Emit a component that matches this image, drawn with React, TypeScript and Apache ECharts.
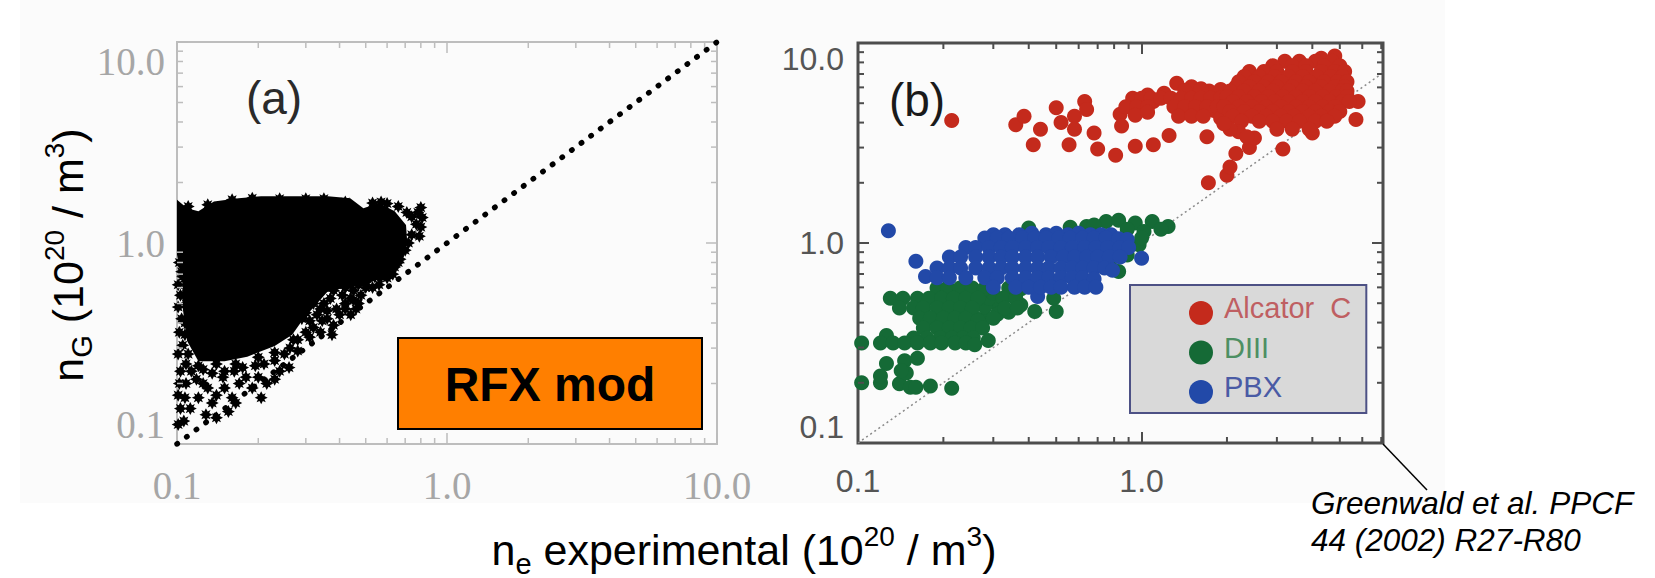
import React, { useEffect, useRef } from "react";
import * as echarts from "echarts";

const minorValues = [0.2, 0.3, 0.4, 0.5, 0.6, 0.7, 0.8, 0.9, 2, 3, 4, 5, 6, 7, 8, 9];
const minorValuesB = [0.2, 0.3, 0.4, 0.5, 0.6, 0.7, 0.8, 0.9, 2, 3, 4, 5, 6, 7];

const rfxCoreOutline = [
  [0.1, 1.64], [0.109, 1.49], [0.12, 1.44], [0.137, 1.61], [0.169, 1.67], [0.205, 1.71], [0.267, 1.71],
  [0.362, 1.71], [0.438, 1.67], [0.49, 1.49], [0.56, 1.58], [0.64, 1.44], [0.705, 1.23], [0.712, 1.02],
  [0.69, 0.85], [0.62, 0.73], [0.56, 0.66], [0.49, 0.62], [0.42, 0.6], [0.36, 0.57], [0.33, 0.5], [0.294, 0.42],
  [0.267, 0.35], [0.23, 0.307], [0.182, 0.272], [0.15, 0.258], [0.12, 0.258], [0.109, 0.325], [0.105, 0.475],
  [0.105, 0.645], [0.1, 0.875],
];
const rfxFringe = [
  [0.102, 0.8], [0.104, 0.72], [0.101, 0.62], [0.103, 0.55], [0.101, 0.48], [0.104, 0.42], [0.102, 0.36],
  [0.105, 0.31], [0.101, 0.28], [0.108, 0.25], [0.103, 0.23], [0.113, 0.23], [0.125, 0.235], [0.135, 0.225],
  [0.15, 0.23], [0.163, 0.23], [0.175, 0.24], [0.195, 0.245], [0.21, 0.25], [0.23, 0.26], [0.25, 0.28],
  [0.262, 0.3], [0.28, 0.33], [0.3, 0.36], [0.31, 0.41], [0.33, 0.44], [0.345, 0.41], [0.36, 0.42],
  [0.375, 0.35], [0.38, 0.39], [0.4, 0.44], [0.42, 0.47], [0.44, 0.44], [0.46, 0.47], [0.45, 0.52],
  [0.48, 0.55], [0.5, 0.6], [0.53, 0.6], [0.56, 0.62], [0.6, 0.67], [0.63, 0.7], [0.64, 0.76], [0.67, 0.83],
  [0.7, 0.92], [0.72, 1.0], [0.74, 1.1], [0.77, 1.24], [0.79, 1.08], [0.8, 1.2], [0.81, 1.34], [0.8, 1.5],
  [0.78, 1.42], [0.74, 1.35], [0.71, 1.42], [0.66, 1.52], [0.6, 1.57], [0.57, 1.6], [0.53, 1.58],
  [0.38, 0.58], [0.37, 0.53], [0.35, 0.5], [0.39, 0.62], [0.42, 0.6], [0.45, 0.58],
  [0.108, 0.2], [0.102, 0.2], [0.101, 0.175], [0.107, 0.17], [0.103, 0.15], [0.112, 0.15], [0.106, 0.13],
  [0.101, 0.125], [0.125, 0.2], [0.13, 0.19], [0.14, 0.175], [0.135, 0.16], [0.128, 0.14], [0.15, 0.19],
  [0.16, 0.17], [0.17, 0.2], [0.165, 0.16], [0.155, 0.145], [0.14, 0.135], [0.18, 0.215], [0.2, 0.215],
  [0.205, 0.17], [0.215, 0.2], [0.23, 0.21], [0.24, 0.23], [0.26, 0.24], [0.19, 0.19], [0.148, 0.215],
  [0.118, 0.21], [0.12, 0.17],
  [0.66, 0.8], [0.62, 0.78], [0.6, 0.72], [0.57, 0.68], [0.54, 0.68], [0.5, 0.64], [0.47, 0.62], [0.44, 0.62],
  [0.41, 0.55], [0.44, 0.53], [0.47, 0.5], [0.42, 0.5], [0.39, 0.47], [0.36, 0.46], [0.34, 0.47], [0.32, 0.5],
  [0.3, 0.45], [0.29, 0.42], [0.32, 0.38], [0.34, 0.36], [0.31, 0.34], [0.27, 0.33], [0.28, 0.29], [0.23, 0.285],
  [0.2, 0.27], [0.165, 0.25], [0.14, 0.25], [0.12, 0.245], [0.11, 0.28], [0.107, 0.35], [0.107, 0.4],
  [0.108, 0.5], [0.107, 0.55], [0.108, 0.6], [0.105, 0.68],
  [0.11, 1.52], [0.13, 1.55], [0.16, 1.64], [0.19, 1.67], [0.24, 1.66], [0.3, 1.66], [0.35, 1.66], [0.42, 1.6],
];
const unityA = [[0.1, 0.1], [10, 10]];
const unityB = [[0.1, 0.1], [7.1, 7.1]];

const alcator = [
  [0.214, 4.1], [0.36, 3.9], [0.385, 4.3], [0.415, 3.1], [0.44, 3.7], [0.5, 4.75], [0.52, 4.0], [0.58, 4.3],
  [0.58, 3.7], [0.555, 3.1], [0.63, 5.1], [0.64, 4.65], [0.68, 3.55], [0.7, 2.95], [0.81, 2.75], [0.95, 3.05],
  [1.1, 3.1], [1.25, 3.45], [0.84, 4.4], [0.85, 3.85], [1.7, 3.4], [1.72, 2.0], [2.0, 2.18], [2.05, 2.4],
  [2.15, 2.8], [2.4, 3.0], [2.5, 3.35], [3.15, 2.95], [4.0, 3.55], [5.7, 4.15], [5.8, 5.1],
  [1.33, 6.3], [1.5, 6.05], [1.73, 5.75], [1.9, 5.85], [1.2, 5.6], [1.05, 5.5], [1.62, 5.9], [1.42, 5.8], [1.1, 5.1], [1.3, 5.1], [1.5, 5.0], [1.8, 4.6],
  [0.93, 5.3], [1.0, 5.3], [1.08, 5.3], [1.17, 5.3], [1.27, 5.3], [1.38, 5.3], [1.5, 5.3], [1.62, 5.3], [1.75, 5.3], [1.9, 5.3],
  [0.88, 4.8], [0.96, 4.8], [1.05, 4.8], [1.3, 4.8], [1.42, 4.8], [1.55, 4.8], [1.7, 4.8], [1.85, 4.8], [2.0, 4.8],
  [0.95, 4.35], [1.05, 4.5], [1.35, 4.3], [1.5, 4.3], [1.65, 4.3], [1.9, 4.2],
  [4.8, 8.6], [4.3, 8.4], [3.2, 8.1], [3.6, 8.1], [4.1, 8.1], [4.7, 8.1], [3.4, 7.7], [3.8, 7.7], [4.4, 7.7], [5.0, 7.7], [2.9, 7.7],
  [2.4, 7.2], [2.7, 7.2], [3.0, 7.2], [3.4, 7.2], [3.8, 7.2], [4.3, 7.2], [4.8, 7.2], [5.2, 7.2],
  [2.3, 6.8], [2.6, 6.8], [2.95, 6.8], [3.3, 6.8], [3.7, 6.8], [4.15, 6.8], [4.65, 6.8], [5.1, 6.8],
  [2.2, 6.4], [2.5, 6.4], [2.8, 6.4], [3.1, 6.4], [3.5, 6.4], [3.9, 6.4], [4.4, 6.4], [4.9, 6.4], [5.3, 6.4],
  [2.15, 6.05], [2.4, 6.05], [2.7, 6.05], [3.0, 6.05], [3.4, 6.05], [3.8, 6.05], [4.3, 6.05], [4.8, 6.05], [5.2, 6.05],
  [2.05, 5.75], [2.3, 5.75], [2.6, 5.75], [2.9, 5.75], [3.3, 5.75], [3.7, 5.75], [4.1, 5.75], [4.6, 5.75], [5.1, 5.75], [5.3, 5.75],
  [2.0, 5.4], [2.2, 5.4], [2.5, 5.4], [2.8, 5.4], [3.15, 5.4], [3.5, 5.4], [3.9, 5.4], [4.35, 5.4], [4.85, 5.4], [5.3, 5.4],
  [2.1, 5.1], [2.35, 5.1], [2.65, 5.1], [2.95, 5.1], [3.3, 5.1], [3.7, 5.1], [4.1, 5.1], [4.6, 5.1], [5.1, 5.1], [5.4, 5.1],
  [1.95, 4.8], [2.2, 4.8], [2.45, 4.8], [2.75, 4.8], [3.1, 4.8], [3.5, 4.8], [3.9, 4.8], [4.35, 4.8], [4.8, 4.8],
  [2.05, 4.55], [2.3, 4.55], [2.6, 4.55], [2.9, 4.55], [3.3, 4.55], [3.7, 4.55], [4.1, 4.55], [4.6, 4.55], [5.0, 4.55],
  [2.1, 4.3], [2.45, 4.3], [2.75, 4.3], [3.1, 4.3], [3.45, 4.3], [3.9, 4.3], [4.3, 4.3], [4.8, 4.3],
  [2.25, 4.06], [2.6, 4.06], [2.9, 4.06], [3.25, 4.06], [3.6, 4.06], [4.1, 4.06], [4.5, 4.06],
  [2.2, 3.6], [2.35, 3.4], [3.0, 3.7], [3.4, 3.7], [3.9, 3.7], [2.05, 3.7], [1.95, 3.95],
];
const diii = [
  [0.75, 1.28], [0.83, 1.3], [0.95, 1.26], [1.09, 1.28], [1.24, 1.21], [1.17, 1.17], [1.02, 1.14], [0.89, 1.17],
  [0.64, 1.21], [0.56, 1.2], [0.4, 1.19], [0.68, 1.23], [0.98, 0.98], [0.89, 0.87], [0.83, 0.72], [0.78, 0.75], [1.0, 1.06],
  [0.5, 0.455], [0.42, 0.455], [0.49, 0.53], [0.375, 0.49], [0.35, 0.55], [0.31, 0.49], [0.28, 0.42], [0.26, 0.42],
  [0.28, 0.48], [0.29, 0.53], [0.3, 0.56], [0.27, 0.56], [0.31, 0.44], [0.34, 0.45],
  [0.19, 0.596], [0.207, 0.596], [0.229, 0.596], [0.253, 0.596], [0.279, 0.59], [0.34, 0.596], [0.376, 0.59],
  [0.13, 0.53], [0.144, 0.53], [0.162, 0.53], [0.178, 0.53], [0.197, 0.53], [0.217, 0.53], [0.24, 0.53], [0.265, 0.53], [0.325, 0.53], [0.36, 0.53],
  [0.14, 0.473], [0.157, 0.473], [0.17, 0.473], [0.19, 0.473], [0.21, 0.473], [0.23, 0.473], [0.253, 0.473], [0.33, 0.473], [0.365, 0.473],
  [0.165, 0.42], [0.18, 0.42], [0.2, 0.42], [0.22, 0.42], [0.24, 0.42], [0.265, 0.41], [0.3, 0.42],
  [0.17, 0.376], [0.19, 0.376], [0.21, 0.376], [0.23, 0.376], [0.25, 0.376], [0.275, 0.376],
  [0.126, 0.345], [0.157, 0.335], [0.175, 0.335], [0.195, 0.335], [0.215, 0.335], [0.235, 0.335], [0.255, 0.335],
  [0.103, 0.316], [0.12, 0.316], [0.133, 0.316], [0.146, 0.316], [0.162, 0.316], [0.18, 0.316], [0.197, 0.316], [0.22, 0.316], [0.24, 0.316], [0.258, 0.31], [0.288, 0.325],
  [0.103, 0.2], [0.12, 0.2], [0.126, 0.25], [0.14, 0.198], [0.146, 0.258], [0.162, 0.265], [0.148, 0.224], [0.153, 0.19], [0.16, 0.19], [0.18, 0.193], [0.214, 0.188], [0.12, 0.216], [0.142, 0.23],
];
const pbx = [
  [0.128, 1.15], [0.16, 0.81], [0.173, 0.68], [1.0, 0.84], [0.43, 0.54],
  [0.3, 1.1], [0.33, 1.1], [0.37, 1.1], [0.41, 1.12], [0.46, 1.1], [0.5, 1.12], [0.55, 1.1], [0.6, 1.12], [0.66, 1.1], [0.72, 1.1], [0.78, 1.1],
  [0.28, 1.06], [0.31, 1.06], [0.34, 1.06], [0.38, 1.06], [0.42, 1.06], [0.46, 1.06], [0.51, 1.06], [0.56, 1.06], [0.62, 1.06], [0.68, 1.06], [0.75, 1.06], [0.83, 1.05], [0.89, 1.04],
  [0.24, 0.95], [0.26, 0.95], [0.29, 0.95], [0.32, 0.95], [0.35, 0.95], [0.39, 0.95], [0.43, 0.95], [0.47, 0.95], [0.52, 0.95], [0.57, 0.95], [0.63, 0.95], [0.69, 0.95], [0.76, 0.95], [0.84, 0.95], [0.9, 0.95],
  [0.21, 0.85], [0.23, 0.85], [0.26, 0.85], [0.29, 0.85], [0.32, 0.85], [0.35, 0.85], [0.39, 0.85], [0.43, 0.85], [0.48, 0.85], [0.53, 0.85], [0.58, 0.85], [0.64, 0.85], [0.7, 0.85], [0.77, 0.85], [0.84, 0.85],
  [0.19, 0.75], [0.21, 0.75], [0.23, 0.75], [0.26, 0.75], [0.29, 0.75], [0.32, 0.75], [0.35, 0.75], [0.39, 0.75], [0.43, 0.75], [0.47, 0.75], [0.52, 0.75], [0.57, 0.75], [0.62, 0.75], [0.68, 0.75], [0.74, 0.75], [0.79, 0.73],
  [0.19, 0.67], [0.21, 0.67], [0.24, 0.67], [0.28, 0.67], [0.31, 0.67], [0.35, 0.67], [0.39, 0.67], [0.43, 0.67], [0.47, 0.67], [0.52, 0.67], [0.57, 0.67], [0.62, 0.67], [0.68, 0.66],
  [0.3, 0.6], [0.36, 0.6], [0.4, 0.6], [0.44, 0.6], [0.48, 0.6], [0.52, 0.6], [0.58, 0.6], [0.63, 0.6], [0.69, 0.6],
];

const SANS = "Liberation Sans";
const SERIF = "Liberation Serif";
const STAR = "path://M5 0L6.3 2.5L8.5 1.5L7.5 3.7L10 5L7.5 6.3L8.5 8.5L6.3 7.5L5 10L3.7 7.5L1.5 8.5L2.5 6.3L0 5L2.5 3.7L1.5 1.5L3.7 2.5Z";
// A circle with an empty point above it: the legend centres its text on the whole icon box, so the text sits above the circle.
const LEGEND_ICON = "path://M12 -10L12 -10M0 12A12 12 0 1 1 24 12A12 12 0 1 1 0 12Z";

const titleRich = {
  b: { fontFamily: SANS, fontSize: 43, color: "#1a1a1a", lineHeight: 56, verticalAlign: "middle" },
  sub: { fontFamily: SANS, fontSize: 29, color: "#1a1a1a", lineHeight: 56, verticalAlign: "bottom", padding: [10, 0, 0, 0] },
  sup: { fontFamily: SANS, fontSize: 28, color: "#1a1a1a", lineHeight: 56, verticalAlign: "top", padding: [0, 0, 12, 0] },
};

function axisSet(
  kind: "x" | "y",
  gridIndex: number,
  min: number,
  max: number,
  tickColor: string,
  tickWidth: number,
  label: any,
) {
  const sides = kind === "x" ? ["bottom", "top"] : ["left", "right"];
  return sides.map((position, i) => ({
    type: "log",
    logBase: 10,
    gridIndex,
    min,
    max,
    position,
    axisLine: { show: false },
    splitLine: { show: false },
    axisTick: { show: true, inside: true, length: 11, lineStyle: { color: tickColor, width: tickWidth } },
    axisLabel: i === 0 ? label : { show: false },
  }));
}

// Short minor ticks on both opposite sides, placed by the axes' own log scales.
function minorTicks(
  kind: "x" | "y",
  axisIndex: number,
  values: number[],
  xRange: number[],
  yRange: number[],
  color: string,
  width: number,
) {
  const LEN = 6;
  return {
    type: "custom",
    name: `minor ticks ${kind}${axisIndex}`,
    xAxisIndex: axisIndex,
    yAxisIndex: axisIndex,
    silent: true,
    clip: false,
    z: 3,
    data: values.map((v) => (kind === "x" ? [v, yRange[0]] : [xRange[0], v])),
    encode: { x: 0, y: 1 },
    renderItem: (_: any, api: any) => {
      const style = { stroke: color, lineWidth: width };
      const v = api.value(kind === "x" ? 0 : 1);
      if (kind === "x") {
        const a = api.coord([v, yRange[0]]);
        const b = api.coord([v, yRange[1]]);
        return {
          type: "group",
          children: [
            { type: "line", shape: { x1: a[0], y1: a[1], x2: a[0], y2: a[1] - LEN }, style },
            { type: "line", shape: { x1: b[0], y1: b[1], x2: b[0], y2: b[1] + LEN }, style },
          ],
        };
      }
      const a = api.coord([xRange[0], v]);
      const b = api.coord([xRange[1], v]);
      return {
        type: "group",
        children: [
          { type: "line", shape: { x1: a[0], y1: a[1], x2: a[0] + LEN, y2: a[1] }, style },
          { type: "line", shape: { x1: b[0], y1: b[1], x2: b[0] - LEN, y2: b[1] }, style },
        ],
      };
    },
  };
}

const fmt = (v: number) => v.toFixed(1);

export default function App() {
  const ref = useRef<HTMLDivElement>(null);
  useEffect(() => {
    document.body.style.margin = "0";
    const chart = echarts.init(ref.current!, undefined, { renderer: "svg" });
    const labelA = { show: true, fontFamily: SERIF, fontSize: 39, color: "#a6a6a6", formatter: fmt };
    const labelB = { show: true, fontFamily: SANS, fontSize: 32, color: "#555555", formatter: fmt };
    const rangeA = [0.1, 10];
    const xRangeB = [0.1, 7.1];
    const yRangeB = [0.1, 10];
    chart.setOption({
      animation: false,
      backgroundColor: "#ffffff",
      grid: [
        { left: 177, top: 42, width: 540, height: 402, show: true, borderColor: "#bdbdbd", borderWidth: 2, containLabel: false },
        { left: 858, top: 43, width: 525, height: 400, show: true, borderColor: "#4d4d4d", borderWidth: 3, containLabel: false },
      ],
      xAxis: [
        ...axisSet("x", 0, 0.1, 10, "#bdbdbd", 1.5, { ...labelA, margin: 22 }),
        ...axisSet("x", 1, 0.1, 7.1, "#4d4d4d", 2, { ...labelB, margin: 22, showMaxLabel: false }),
      ],
      yAxis: [
        ...axisSet("y", 0, 0.1, 10, "#bdbdbd", 1.5, { ...labelA, margin: 12, verticalAlignMaxLabel: "top", verticalAlignMinLabel: "bottom" }),
        ...axisSet("y", 1, 0.1, 10, "#4d4d4d", 2, { ...labelB, margin: 14, verticalAlignMaxLabel: "top", verticalAlignMinLabel: "bottom" }),
      ],
      legend: {
        data: [
          { name: "Alcator  C", textStyle: { color: "#bf5f62" } },
          { name: "DIII", textStyle: { color: "#4d8f63" } },
          { name: "PBX", textStyle: { color: "#4a5ba5" } },
        ],
        orient: "vertical",
        left: 1130,
        top: 285,
        icon: LEGEND_ICON,
        itemWidth: 24,
        itemHeight: 34,
        itemGap: 5.5,
        padding: [6, 15, 9, 59],
        backgroundColor: "#d9d9d9",
        borderColor: "#4d5185",
        borderWidth: 2,
        borderRadius: 0,
        selectedMode: false,
        textStyle: { fontFamily: SANS, fontSize: 29, padding: [0, 0, 0, 6] },
      },
      series: [
        minorTicks("x", 0, minorValues, rangeA, rangeA, "#bdbdbd", 1.5),
        minorTicks("y", 0, minorValues, rangeA, rangeA, "#bdbdbd", 1.5),
        minorTicks("x", 2, minorValuesB, xRangeB, yRangeB, "#4d4d4d", 2),
        minorTicks("y", 2, minorValues, xRangeB, yRangeB, "#4d4d4d", 2),
        {
          type: "custom",
          name: "RFX core",
          xAxisIndex: 0,
          yAxisIndex: 0,
          data: rfxCoreOutline,
          encode: { x: 0, y: 1 },
          clip: false,
          renderItem: (params: any, api: any) => {
            if (params.dataIndex !== 0) return null;
            return {
              type: "polygon",
              shape: { points: rfxCoreOutline.map((p) => api.coord(p)) },
              style: { fill: "#000000" },
            };
          },
        },
        {
          type: "scatter",
          name: "RFX mod",
          xAxisIndex: 0,
          yAxisIndex: 0,
          data: rfxFringe,
          symbol: STAR,
          symbolSize: 13,
          itemStyle: { color: "#000000", opacity: 1 },
          clip: false,
        },
        {
          type: "line",
          name: "unity a",
          xAxisIndex: 0,
          yAxisIndex: 0,
          data: unityA,
          symbol: "none",
          lineStyle: { color: "#000000", width: 5.5, type: [0.5, 11.5], cap: "round" },
          z: 4,
        },
        {
          type: "line",
          name: "unity b",
          xAxisIndex: 2,
          yAxisIndex: 2,
          data: unityB,
          symbol: "none",
          lineStyle: { color: "#8a8a8a", width: 1.5, type: [2, 3] },
          z: 1,
        },
        {
          type: "scatter",
          name: "Alcator  C",
          xAxisIndex: 2,
          yAxisIndex: 2,
          data: alcator,
          symbol: "circle",
          symbolSize: 15,
          itemStyle: { color: "#c42a1c", opacity: 1 },
          clip: false,
        },
        {
          type: "scatter",
          name: "DIII",
          xAxisIndex: 2,
          yAxisIndex: 2,
          data: diii,
          symbol: "circle",
          symbolSize: 15,
          itemStyle: { color: "#156a36", opacity: 1 },
          clip: false,
        },
        {
          type: "scatter",
          name: "PBX",
          xAxisIndex: 2,
          yAxisIndex: 2,
          data: pbx,
          symbol: "circle",
          symbolSize: 15,
          itemStyle: { color: "#2249a8", opacity: 1 },
          clip: false,
        },
      ],
      graphic: [
        { type: "rect", z: -1, silent: true, shape: { x: 20, y: 0, width: 1425, height: 503 }, style: { fill: "#fbfbfb" } },
        {
          type: "text",
          x: 68,
          y: 255,
          rotation: Math.PI / 2,
          style: {
            text: "{b|n}{sub|G}{b| (10}{sup|20}{b| / m}{sup|3}{b|)}",
            rich: titleRich,
            align: "center",
            verticalAlign: "middle",
          },
        },
        {
          type: "text",
          x: 744,
          y: 550,
          style: {
            text: "{b|n}{sub|e}{b| experimental (10}{sup|20}{b| / m}{sup|3}{b|)}",
            rich: titleRich,
            align: "center",
            verticalAlign: "middle",
          },
        },
        { type: "text", x: 274, y: 98, style: { text: "(a)", fontFamily: SANS, fontSize: 46, fill: "#2a2a2a", align: "center", verticalAlign: "middle" } },
        { type: "text", x: 917, y: 100, style: { text: "(b)", fontFamily: SANS, fontSize: 46, fill: "#1a1a1a", align: "center", verticalAlign: "middle" } },
        { type: "rect", shape: { x: 398, y: 338, width: 304, height: 91 }, style: { fill: "#ff7f00", stroke: "#000000", lineWidth: 2 } },
        { type: "text", x: 550, y: 384, style: { text: "RFX mod", fontFamily: SANS, fontWeight: "bold", fontSize: 48, fill: "#000000", align: "center", verticalAlign: "middle" } },
        { type: "line", shape: { x1: 1383, y1: 444, x2: 1427, y2: 490 }, style: { stroke: "#000000", lineWidth: 1.5 } },
        { type: "text", x: 1311, y: 503, style: { text: "Greenwald et al. PPCF", fontFamily: SANS, fontStyle: "italic", fontSize: 31.5, fill: "#000000", verticalAlign: "middle" } },
        { type: "text", x: 1311, y: 540, style: { text: "44 (2002) R27-R80", fontFamily: SANS, fontStyle: "italic", fontSize: 31.5, fill: "#000000", verticalAlign: "middle" } },
      ],
    });
    return () => chart.dispose();
  }, []);
  return <div ref={ref} style={{ position: "absolute", left: 0, top: 0, width: 1655, height: 578 }} />;
}
